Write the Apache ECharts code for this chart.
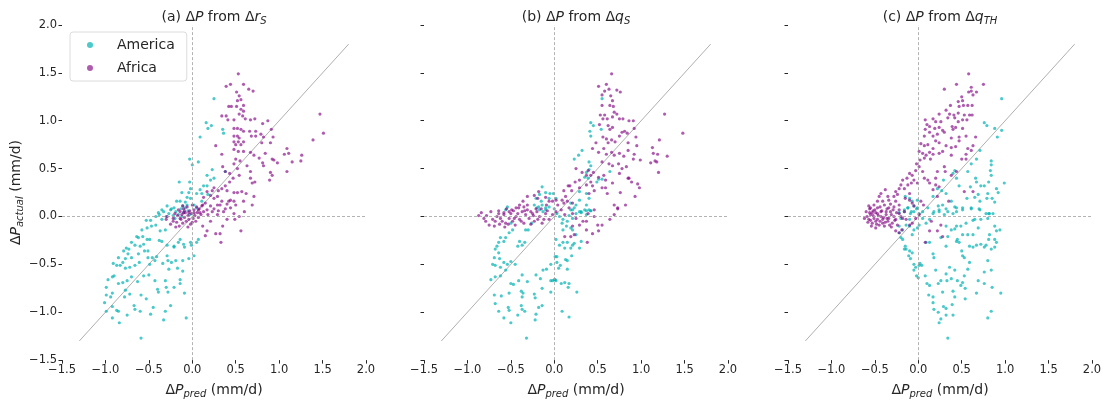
<!DOCTYPE html>
<html><head><meta charset="utf-8">
<script src="https://cdn.jsdelivr.net/npm/echarts@6/dist/echarts.min.js"></script>
<style>html,body{margin:0;padding:0;background:#fff;overflow:hidden}#c{width:1105px;height:404px}</style>
</head><body><div id="c"></div>
<script>
const regions = ['America', 'Africa'];
const panelTitles = ['(a) Δ{i|P} from Δ{i|r}{s|S}', '(b) Δ{i|P} from Δ{i|q}{s|S}', '(c) Δ{i|P} from Δ{i|q}{s|TH}'];
const xName = 'Δ{i|P}{s|pred} (mm/d)';
const yName = 'Δ{i|P}{s|actual} (mm/d)';
const diagonal = [-1.3, 1.8];

const africaA = [[0.53,1.49],[0.39,1.36],[0.44,1.38],[0.59,1.38],[0.65,1.33],[0.70,1.31],[0.51,1.30],[0.54,1.26],[0.56,1.22],[0.52,1.21],[0.59,1.16],[0.42,1.15],[0.45,1.15],[0.51,1.15],[0.56,1.12],[0.59,1.10],[0.34,1.05],[0.39,1.05],[0.54,1.07],[0.58,1.05],[0.61,1.02],[0.67,1.01],[0.72,1.02],[0.41,1.01],[0.48,1.01],[0.81,0.97],[0.87,1.00],[0.48,0.92],[0.52,0.92],[0.56,0.91],[0.59,0.89],[0.66,0.89],[0.73,0.89],[0.91,0.91],[0.68,0.84],[0.73,0.84],[0.48,0.84],[0.52,0.84],[0.54,0.82],[0.79,0.86],[0.82,0.83],[0.93,0.83],[1.47,1.07],[1.51,0.87],[1.39,0.80],[0.48,0.78],[0.53,0.78],[0.59,0.78],[0.80,0.77],[0.90,0.77],[0.27,0.74],[0.50,0.75],[0.56,0.75],[1.09,0.71],[1.06,0.65],[1.11,0.66],[0.48,0.70],[0.53,0.68],[0.59,0.68],[0.34,0.65],[0.67,0.67],[0.71,0.64],[0.84,0.66],[0.92,0.60],[0.94,0.59],[0.77,0.61],[0.81,0.56],[0.50,0.60],[0.55,0.58],[1.15,0.57],[1.26,0.64],[1.25,0.58],[0.98,0.56],[0.48,0.55],[0.52,0.50],[0.63,0.53],[0.67,0.47],[0.82,0.53],[0.90,0.46],[1.09,0.47],[0.92,0.43],[0.89,0.38],[0.35,0.52],[0.38,0.47],[0.43,0.45],[0.54,0.43],[0.67,0.40],[0.69,0.35],[0.72,0.36],[0.47,0.40],[0.43,0.36],[0.38,0.32],[0.34,0.29],[0.30,0.27],[0.40,0.27],[0.48,0.25],[0.52,0.25],[0.25,0.30],[0.23,0.27],[0.57,0.26],[0.62,0.24],[0.71,0.21],[0.59,0.16],[0.69,0.12],[0.44,0.17],[0.48,0.16],[0.17,0.26],[0.21,0.22],[0.13,0.20],[0.25,0.19],[0.29,0.21],[0.34,0.16],[0.40,0.13],[0.29,0.12],[0.15,0.14],[0.11,0.11],[0.21,0.11],[0.17,0.07],[0.07,0.07],[0.13,0.05],[0.23,0.05],[0.30,0.06],[0.36,0.05],[0.09,0.04],[0.02,0.04],[-0.04,0.04],[-0.10,0.04],[0.44,0.09],[0.48,0.03],[0.54,0.0],[0.49,-0.03],[0.56,-0.15],[0.35,-0.10],[0.40,-0.03],[0.27,-0.18],[0.32,-0.18],[0.15,-0.20],[0.17,-0.15],[0.12,-0.10],[0.33,-0.27],[0.21,-0.05],[0.29,0.02],[-0.30,-0.03],[-0.22,-0.05],[-0.29,0.0],[-0.25,-0.08],[-0.22,-0.02],[-0.20,0.03],[-0.18,-0.06],[-0.17,0.01],[-0.15,-0.10],[-0.14,0.05],[-0.13,-0.03],[-0.12,0.02],[-0.11,-0.07],[-0.10,0.08],[-0.09,-0.01],[-0.08,0.04],[-0.07,-0.05],[-0.06,0.10],[-0.05,0.01],[-0.04,-0.03],[-0.03,0.06],[-0.02,-0.08],[-0.01,0.03],[0.0,0.12],[0.01,-0.02],[0.02,0.07],[0.03,0.01],[0.04,-0.05],[0.05,0.10],[0.06,0.04],[0.07,-0.01],[0.08,0.08],[-0.16,0.07],[-0.19,-0.11],[-0.11,0.11],[-0.05,-0.11],[0.00,-0.06],[-0.09,0.06],[-0.14,-0.02],[0.10,0.02],[0.12,0.12],[0.18,0.02],[0.25,0.08],[0.32,0.12],[0.38,0.08],[0.42,0.16],[0.50,0.12],[0.60,0.05]];

const americaA = [[0.25,1.23],[0.16,0.98],[0.22,0.95],[0.18,0.92],[0.35,0.91],[0.36,0.87],[0.09,0.83],[-0.03,0.60],[0.00,0.54],[0.07,0.57],[0.17,0.43],[0.23,0.49],[0.25,0.40],[0.21,0.38],[0.38,0.47],[-0.15,0.36],[-0.03,0.36],[0.13,0.32],[0.17,0.32],[0.09,0.28],[0.05,0.24],[0.11,0.24],[0.18,0.23],[-0.02,0.29],[-0.04,0.25],[-0.12,0.25],[-0.06,0.20],[-0.02,0.19],[-0.08,0.15],[-0.14,0.16],[-0.18,0.16],[-0.29,0.11],[-0.35,0.07],[-0.39,0.04],[-0.25,0.07],[-0.21,0.09],[-0.11,0.11],[-0.06,0.12],[0.02,0.12],[0.05,0.09],[0.11,0.16],[-0.38,0.02],[-0.33,0.05],[-0.30,0.0],[-0.27,0.03],[-0.24,0.08],[-0.22,0.01],[-0.19,0.05],[-0.16,0.02],[-0.13,0.08],[-0.10,0.04],[-0.08,0.09],[-0.05,0.06],[-0.03,0.02],[-0.12,0.00],[-0.20,-0.02],[-0.35,-0.03],[-0.42,0.00],[-0.53,-0.04],[-0.48,-0.04],[-0.58,-0.14],[-0.52,-0.12],[-0.47,-0.10],[-0.42,-0.09],[-0.37,-0.15],[-0.31,-0.14],[-0.57,-0.21],[-0.62,-0.22],[-0.64,-0.21],[-0.52,-0.24],[-0.70,-0.27],[-0.66,-0.30],[-0.60,-0.31],[-0.56,-0.29],[-0.49,-0.24],[-0.76,-0.33],[-0.73,-0.34],[-0.79,-0.36],[-0.74,-0.39],[-0.70,-0.43],[-0.77,-0.44],[-0.85,-0.43],[-0.62,-0.39],[-0.55,-0.36],[-0.51,-0.36],[-0.41,-0.42],[-0.46,-0.43],[-0.51,-0.43],[-0.38,-0.25],[-0.35,-0.26],[-0.29,-0.30],[-0.21,-0.31],[-0.21,-0.32],[-0.16,-0.27],[-0.14,-0.24],[-0.10,-0.29],[-0.09,-0.32],[-0.02,-0.27],[-0.01,-0.30],[0.07,-0.24],[0.05,-0.27],[0.02,-0.41],[-0.04,-0.44],[-0.29,-0.41],[-0.19,-0.46],[-0.28,-0.46],[-0.34,-0.49],[-0.24,-0.48],[-0.11,-0.46],[-0.91,-0.49],[-0.87,-0.51],[-0.83,-0.51],[-0.80,-0.48],[-0.77,-0.54],[-0.72,-0.53],[-0.66,-0.51],[-0.61,-0.48],[-0.49,-0.50],[-0.43,-0.46],[-0.97,-0.66],[-0.92,-0.63],[-0.90,-0.62],[-0.85,-0.70],[-0.80,-0.69],[-0.75,-0.67],[-0.70,-0.63],[-0.63,-0.68],[-0.56,-0.62],[-0.50,-0.61],[-0.43,-0.67],[-0.31,-0.67],[-0.27,-0.55],[-0.17,-0.54],[-0.11,-0.57],[-0.99,-0.74],[-0.72,-0.81],[-0.77,-0.77],[-0.59,-0.82],[-0.53,-0.86],[-0.40,-0.76],[-0.39,-0.79],[-0.30,-0.74],[-0.28,-0.79],[-0.21,-0.74],[-0.14,-0.70],[-0.14,-0.66],[-0.09,-0.80],[-1.01,-0.90],[-0.99,-0.82],[-0.94,-0.84],[-0.92,-0.80],[-0.78,-0.84],[-0.99,-0.99],[-0.92,-0.94],[-0.87,-0.98],[-0.85,-0.99],[-0.75,-1.03],[-0.67,-0.93],[-0.66,-0.97],[-0.60,-0.99],[-0.48,-1.02],[-0.45,-0.95],[-0.31,-0.99],[-0.25,-0.93],[-0.33,-1.08],[-0.07,-1.06],[-0.92,-1.06],[-0.84,-1.11],[-0.59,-1.27]];

const africaB = [[0.66,1.49],[0.60,1.38],[0.51,1.36],[0.58,1.31],[0.63,1.33],[0.72,1.32],[0.76,1.30],[0.55,1.27],[0.65,1.26],[0.67,1.21],[0.64,1.16],[0.68,1.15],[0.55,1.16],[0.69,1.09],[0.72,1.07],[0.53,1.06],[0.58,1.06],[0.67,1.04],[0.56,1.02],[0.61,1.02],[0.75,1.02],[0.79,1.02],[0.86,1.00],[0.62,0.95],[0.67,0.93],[0.64,0.91],[0.52,0.96],[0.91,1.00],[0.78,0.88],[0.81,0.89],[0.75,0.84],[0.84,0.87],[0.92,0.92],[1.27,1.07],[1.48,0.87],[0.94,0.83],[1.21,0.80],[1.30,0.63],[1.20,0.46],[0.56,0.83],[0.60,0.81],[0.66,0.80],[0.70,0.78],[0.62,0.77],[0.85,0.77],[0.95,0.74],[0.85,0.69],[1.13,0.72],[1.14,0.66],[1.19,0.65],[0.48,0.77],[0.44,0.71],[0.51,0.67],[0.57,0.71],[0.60,0.65],[0.66,0.67],[0.69,0.64],[0.75,0.66],[0.80,0.63],[0.92,0.65],[0.91,0.60],[0.99,0.59],[1.11,0.56],[1.16,0.58],[1.18,0.57],[0.55,0.57],[0.63,0.55],[0.67,0.53],[0.74,0.55],[0.78,0.50],[0.75,0.45],[0.83,0.52],[0.45,0.46],[0.42,0.43],[0.51,0.41],[0.57,0.43],[0.59,0.38],[0.55,0.30],[0.59,0.30],[0.61,0.24],[0.86,0.40],[0.89,0.36],[0.96,0.34],[0.98,0.30],[0.85,0.40],[0.67,0.35],[0.76,0.25],[0.93,0.21],[0.37,0.43],[0.39,0.48],[0.32,0.46],[0.25,0.50],[0.29,0.38],[0.24,0.36],[0.37,0.33],[0.29,0.30],[0.42,0.36],[0.44,0.32],[0.46,0.27],[0.40,0.24],[0.16,0.32],[0.18,0.32],[0.11,0.27],[0.20,0.27],[0.13,0.21],[0.09,0.17],[0.15,0.16],[0.11,0.14],[0.21,0.14],[0.69,0.12],[0.82,0.12],[0.73,0.08],[0.02,0.17],[-0.02,0.16],[0.04,0.12],[-0.18,0.26],[-0.23,0.22],[-0.19,0.19],[-0.31,0.21],[-0.36,0.16],[-0.40,0.12],[-0.31,0.12],[-0.35,0.10],[-0.44,0.09],[-0.49,0.07],[-0.52,0.05],[-0.58,0.04],[-0.64,0.03],[-0.27,0.05],[-0.21,0.08],[-0.10,0.20],[-0.06,0.16],[-0.09,0.12],[-0.87,0.01],[-0.81,-0.02],[-0.79,-0.05],[-0.75,-0.09],[-0.71,-0.03],[-0.69,-0.10],[-0.66,0.0],[-0.60,-0.05],[-0.58,0.02],[-0.56,-0.07],[-0.52,-0.02],[-0.50,0.03],[-0.48,-0.05],[-0.44,0.0],[-0.40,-0.03],[-0.37,0.05],[-0.35,-0.07],[-0.33,0.02],[-0.29,-0.02],[-0.25,0.03],[-0.23,-0.05],[-0.17,0.0],[-0.14,-0.07],[-0.10,0.03],[-0.06,-0.03],[-0.02,0.02],[0.02,0.05],[0.08,0.07],[0.12,0.02],[0.17,0.09],[0.21,0.03],[0.25,-0.02],[0.29,-0.09],[0.33,-0.05],[0.37,-0.05],[0.39,0.03],[0.46,0.0],[0.50,-0.09],[0.55,-0.09],[0.44,-0.18],[0.38,-0.27],[0.51,-0.15],[0.37,-0.14],[0.21,-0.10],[0.23,-0.19],[0.19,-0.21],[0.12,-0.21],[0.73,0.09],[0.69,0.02],[0.64,-0.03],[0.46,0.07],[-0.84,0.04],[-0.78,0.01],[-0.73,0.05],[-0.68,-0.05],[-0.64,0.06],[-0.62,-0.02],[-0.55,0.08],[-0.53,-0.08],[-0.47,0.06],[-0.45,-0.09],[-0.42,0.03],[-0.38,-0.05],[-0.31,0.07],[-0.27,-0.08],[-0.24,0.01],[-0.20,0.05],[-0.15,0.08],[-0.12,-0.03],[-0.08,0.06],[-0.63,-0.08],[-0.57,-0.11],[-0.46,-0.02],[-0.41,0.09],[-0.34,0.06],[-0.19,-0.03]];

const americaB = [[0.55,1.23],[0.42,0.98],[0.45,0.95],[0.41,0.89],[0.42,0.84],[0.54,0.91],[0.32,0.69],[0.23,0.60],[0.28,0.64],[0.40,0.57],[0.42,0.53],[0.40,0.49],[0.37,0.46],[0.35,0.41],[0.39,0.40],[0.51,0.39],[0.55,0.39],[0.49,0.36],[0.64,0.47],[-0.14,0.31],[-0.10,0.25],[-0.05,0.24],[-0.17,0.23],[-0.21,0.19],[-0.15,0.16],[-0.14,0.12],[-0.10,0.09],[-0.18,0.10],[-0.23,0.12],[-0.54,0.10],[-0.56,0.07],[-0.01,0.24],[-0.06,0.19],[0.02,0.19],[0.29,0.26],[0.37,0.24],[0.40,0.19],[0.29,0.17],[0.25,0.12],[0.37,0.12],[0.42,0.06],[0.37,0.06],[0.31,0.04],[0.21,0.07],[0.19,0.14],[-0.50,-0.07],[-0.48,-0.14],[-0.52,-0.17],[-0.56,-0.22],[-0.58,-0.26],[-0.62,-0.22],[-0.64,-0.27],[-0.66,-0.31],[-0.68,-0.34],[-0.64,-0.38],[-0.69,-0.43],[-0.63,-0.44],[-0.71,-0.50],[-0.68,-0.51],[-0.58,-0.48],[-0.54,-0.50],[-0.62,-0.53],[-0.56,-0.56],[-0.50,-0.47],[-0.45,-0.50],[-0.42,-0.31],[-0.40,-0.26],[-0.37,-0.30],[-0.34,-0.27],[-0.30,-0.14],[-0.33,-0.14],[-0.26,-0.07],[-0.73,-0.66],[-0.68,-0.63],[-0.62,-0.62],[-0.50,-0.70],[-0.47,-0.71],[-0.41,-0.67],[-0.37,-0.61],[-0.31,-0.68],[-0.21,-0.61],[-0.16,-0.65],[-0.13,-0.56],[-0.09,-0.55],[-0.04,-0.50],[0.01,-0.42],[0.03,-0.48],[-0.04,-0.67],[0.00,-0.66],[0.02,-0.67],[-0.69,-0.82],[-0.68,-0.91],[-0.61,-0.83],[-0.52,-0.80],[-0.38,-0.78],[-0.36,-0.80],[-0.37,-0.84],[-0.23,-0.81],[-0.22,-0.85],[-0.14,-0.75],[-0.04,-0.79],[-0.14,-0.93],[-0.18,-0.95],[-0.21,-1.02],[-0.22,-1.08],[-0.38,-0.93],[-0.37,-0.97],[-0.34,-0.99],[-0.42,-1.03],[-0.53,-0.95],[-0.52,-0.98],[-0.58,-1.06],[-0.50,-1.11],[-0.64,-0.99],[-0.32,-1.27],[0.02,-0.24],[0.06,-0.30],[0.10,-0.27],[0.12,-0.33],[0.15,-0.27],[0.19,-0.33],[0.21,-0.30],[0.23,-0.28],[0.29,-0.33],[0.31,-0.26],[0.25,-0.19],[0.21,-0.14],[0.19,-0.12],[0.14,-0.10],[0.10,-0.14],[0.09,-0.07],[0.15,-0.05],[0.21,-0.02],[0.25,0.03],[0.29,0.05],[0.35,0.07],[0.42,0.06],[0.37,0.02],[0.17,0.01],[0.10,-0.03],[0.06,0.0],[0.03,-0.42],[0.05,-0.54],[0.13,-0.45],[0.15,-0.46],[0.20,-0.41],[0.15,-0.55],[0.12,-0.69],[0.17,-0.70],[0.16,-0.74],[0.08,-0.70],[0.26,-0.79],[0.09,-0.99],[0.17,-1.05],[0.01,-0.66],[-0.02,-0.67],[0.07,-0.51],[-0.20,0.09],[-0.17,0.07],[-0.13,0.05],[-0.10,0.07],[-0.06,0.10],[0.00,0.08],[0.03,0.03],[0.19,0.07],[0.23,0.09],[0.31,0.05],[0.40,0.07]];

const africaC = [[0.58,1.49],[0.44,1.38],[0.75,1.38],[0.61,1.35],[0.61,1.31],[0.58,1.30],[0.63,1.27],[0.67,1.30],[0.30,1.33],[0.50,1.25],[0.51,1.21],[0.46,1.20],[0.37,1.16],[0.47,1.15],[0.52,1.16],[0.57,1.16],[0.62,1.16],[0.32,1.11],[0.24,1.07],[0.36,1.07],[0.41,1.06],[0.46,1.08],[0.53,1.06],[0.59,1.06],[0.62,1.06],[0.08,1.01],[0.17,1.02],[0.20,0.99],[0.26,0.99],[0.34,1.03],[0.42,1.03],[0.46,0.99],[0.51,1.01],[0.56,1.01],[0.10,0.96],[0.13,0.94],[0.08,0.91],[0.19,0.92],[0.24,0.93],[0.28,0.90],[0.39,0.94],[0.40,0.91],[0.43,0.93],[0.51,0.92],[0.07,0.84],[0.13,0.88],[0.17,0.84],[0.22,0.86],[0.30,0.88],[0.38,0.82],[0.47,0.83],[0.55,0.84],[0.66,0.83],[0.03,0.76],[0.07,0.74],[0.11,0.75],[0.17,0.71],[0.20,0.79],[0.24,0.77],[0.32,0.74],[0.38,0.72],[0.43,0.73],[0.47,0.79],[0.57,0.71],[0.61,0.69],[0.63,0.74],[0.01,0.68],[0.05,0.66],[0.09,0.64],[0.13,0.67],[0.17,0.65],[0.07,0.61],[0.14,0.60],[0.24,0.66],[0.28,0.68],[0.38,0.64],[0.50,0.60],[0.55,0.60],[0.55,0.65],[-0.02,0.55],[0.01,0.52],[-0.03,0.48],[0.05,0.47],[0.02,0.59],[-0.07,0.43],[-0.10,0.45],[-0.05,0.38],[-0.01,0.35],[-0.08,0.35],[-0.13,0.40],[-0.18,0.38],[-0.12,0.33],[-0.20,0.33],[-0.22,0.29],[-0.16,0.29],[-0.26,0.26],[-0.24,0.23],[-0.28,0.21],[-0.35,0.21],[-0.38,0.28],[-0.43,0.24],[-0.45,0.21],[-0.41,0.16],[-0.47,0.16],[-0.51,0.12],[-0.55,0.09],[-0.52,0.06],[-0.56,0.04],[-0.47,0.09],[-0.39,0.12],[-0.34,0.17],[-0.32,0.13],[-0.26,0.16],[-0.22,0.12],[-0.28,0.10],[-0.34,0.09],[-0.37,0.05],[-0.43,0.05],[-0.49,0.04],[-0.22,0.07],[-0.16,0.05],[-0.15,0.19],[-0.10,0.24],[-0.10,0.17],[-0.07,0.14],[-0.05,0.11],[0.22,0.47],[0.30,0.52],[0.31,0.47],[0.38,0.43],[0.44,0.47],[0.07,0.40],[0.11,0.38],[0.13,0.35],[0.20,0.33],[0.24,0.31],[0.20,0.40],[0.35,0.16],[0.53,0.26],[0.63,0.26],[0.03,0.16],[0.06,0.12],[0.17,0.28],[0.22,0.21],[-0.59,0.0],[-0.57,-0.03],[-0.55,0.02],[-0.53,-0.07],[-0.51,-0.02],[-0.49,-0.05],[-0.47,0.03],[-0.45,-0.09],[-0.43,0.0],[-0.41,-0.03],[-0.39,-0.10],[-0.37,0.02],[-0.35,-0.05],[-0.34,-0.02],[-0.32,0.05],[-0.30,-0.07],[-0.28,0.0],[-0.26,-0.03],[-0.22,0.03],[-0.18,-0.02],[-0.26,-0.15],[-0.22,-0.17],[-0.19,-0.14],[-0.14,-0.03],[-0.10,-0.09],[-0.07,-0.07],[0.08,-0.27],[0.13,-0.15],[0.26,-0.09],[0.28,-0.21],[0.22,-0.15],[0.15,-0.05],[-0.03,-0.02],[0.01,0.02],[-0.60,0.05],[-0.58,-0.06],[-0.56,0.08],[-0.54,-0.10],[-0.52,0.01],[-0.50,0.07],[-0.48,-0.08],[-0.46,0.01],[-0.44,-0.05],[-0.42,0.06],[-0.40,-0.01],[-0.38,-0.06],[-0.36,0.08],[-0.33,-0.09],[-0.31,0.02],[-0.29,0.07],[-0.27,-0.04],[-0.25,0.04],[-0.24,-0.09],[-0.20,0.00],[-0.57,0.11],[-0.53,0.04],[-0.49,-0.12],[-0.44,0.10],[-0.41,-0.07],[-0.36,-0.02],[-0.31,-0.11],[-0.62,-0.02],[-0.55,-0.04],[-0.47,-0.03]];

const americaC = [[0.96,1.23],[0.76,0.98],[0.79,0.95],[0.88,0.92],[0.96,0.90],[0.91,0.83],[0.71,0.69],[0.67,0.60],[0.61,0.55],[0.57,0.47],[0.84,0.58],[0.84,0.54],[0.83,0.48],[0.84,0.43],[0.81,0.36],[0.42,0.48],[0.40,0.45],[0.44,0.40],[0.47,0.32],[0.29,0.38],[0.27,0.27],[0.22,0.29],[0.17,0.21],[0.66,0.40],[0.67,0.36],[0.60,0.31],[0.72,0.32],[0.76,0.32],[0.90,0.29],[0.92,0.25],[0.80,0.24],[0.79,0.19],[0.85,0.19],[0.88,0.15],[0.71,0.16],[0.69,0.23],[0.65,0.20],[0.56,0.19],[0.99,0.35],[0.32,0.24],[0.38,0.16],[0.42,0.10],[0.44,0.05],[0.51,0.07],[0.61,0.08],[0.71,0.07],[0.86,0.03],[0.81,0.03],[0.23,0.11],[0.28,0.12],[0.24,0.05],[0.18,0.05],[0.11,0.09],[-0.15,0.21],[-0.10,0.19],[-0.07,0.16],[-0.01,0.17],[-0.05,0.11],[-0.12,0.09],[-0.16,0.05],[-0.08,0.05],[-0.02,0.08],[0.05,0.05],[0.01,0.03],[-0.22,0.04],[-0.22,-0.17],[-0.20,-0.22],[-0.18,-0.24],[-0.15,-0.31],[-0.16,-0.34],[-0.10,-0.36],[-0.11,-0.41],[-0.14,-0.34],[-0.07,-0.38],[-0.09,-0.44],[-0.05,-0.50],[-0.03,-0.53],[0.01,-0.51],[0.04,-0.51],[0.02,-0.49],[-0.05,-0.56],[-0.02,-0.62],[0.00,-0.64],[0.08,-0.62],[0.10,-0.70],[0.13,-0.72],[0.12,-0.82],[0.17,-0.84],[0.17,-0.90],[0.18,-0.97],[0.23,-1.00],[0.29,-0.94],[0.32,-0.96],[0.26,-1.07],[0.24,-1.11],[0.32,-1.03],[0.39,-0.92],[0.40,-1.03],[0.34,-1.27],[0.09,-0.27],[0.13,-0.27],[0.17,-0.39],[0.18,-0.43],[0.20,-0.56],[0.23,-0.70],[0.26,-0.67],[0.28,-0.79],[0.33,-0.67],[0.38,-0.65],[0.40,-0.78],[0.42,-0.84],[0.45,-0.67],[0.49,-0.72],[0.51,-0.69],[0.53,-0.62],[0.54,-0.75],[0.54,-0.86],[0.57,-0.55],[0.59,-0.48],[0.51,-0.41],[0.53,-0.43],[0.50,-0.36],[0.47,-0.27],[0.44,-0.26],[0.45,-0.24],[0.51,-0.19],[0.57,-0.19],[0.63,-0.19],[0.59,-0.31],[0.63,-0.32],[0.67,-0.30],[0.72,-0.29],[0.76,-0.32],[0.78,-0.30],[0.81,-0.24],[0.82,-0.19],[0.88,-0.24],[0.90,-0.27],[0.88,-0.32],[0.84,-0.34],[0.80,-0.46],[0.84,-0.56],[0.76,-0.58],[0.69,-0.67],[0.67,-0.80],[0.76,-0.70],[0.85,-0.74],[0.95,-0.80],[0.84,-0.99],[0.80,-1.06],[0.36,-0.53],[0.42,-0.56],[0.32,-0.60],[0.34,-0.21],[0.32,-0.31],[0.26,-0.22],[0.32,-0.10],[0.38,-0.14],[0.42,-0.13],[0.44,-0.10],[0.49,-0.10],[0.55,-0.07],[0.63,-0.04],[0.65,-0.03],[0.69,-0.12],[0.72,-0.03],[0.80,-0.02],[0.82,0.03],[0.88,-0.10],[0.90,-0.15],[0.94,-0.14],[0.30,0.02],[0.34,0.05],[0.40,0.03],[0.44,0.09],[0.51,0.09],[0.61,0.09],[0.70,0.08],[0.78,0.03],[0.32,0.08],[0.24,0.07],[0.17,0.03],[0.13,-0.03],[0.09,-0.07],[0.05,-0.02],[0.01,-0.09],[-0.01,-0.12],[-0.05,-0.14],[-0.07,-0.19],[-0.10,-0.10],[-0.14,-0.09],[-0.18,-0.14],[-0.22,-0.10],[-0.20,-0.02],[-0.16,0.07],[-0.12,0.09],[-0.09,0.03],[-0.05,0.05],[-0.01,0.09],[-0.10,-0.03]];

const americaSets = [americaA, americaB, americaC];
const africaSets = [africaA, africaB, africaC];

const FONT = 'DejaVu Sans';
const TXT = '#262626';
const regionColors = ['rgba(0,178,178,0.88)', 'rgba(128,0,128,0.8)'];
const gridLefts = [62, 424, 788];
const gridWidth = 304;

function richFor(size) {
  return {
    i: { fontStyle: 'italic', fontSize: size, fontFamily: FONT, color: TXT, lineHeight: 18 },
    s: { fontStyle: 'italic', fontSize: Math.round(size * 0.72), fontFamily: FONT, color: TXT, verticalAlign: 'bottom', lineHeight: 11 }
  };
}
const fmt = v => (v < 0 ? '\u2212' : '') + Math.abs(v).toFixed(1);

const grids = [], xAxes = [], yAxes = [], series = [], titles = [];
for (let p = 0; p < 3; p++) {
  grids.push({ left: gridLefts[p], top: 25, width: gridWidth, height: 341 });
  titles.push({
    text: panelTitles[p], left: gridLefts[p] + gridWidth / 2, top: 8, textAlign: 'center', padding: 0,
    textStyle: { fontFamily: FONT, fontSize: 14, fontWeight: 'normal', color: TXT, lineHeight: 18, rich: richFor(14) }
  });
  xAxes.push({
    gridIndex: p, type: 'value', min: -1.5, max: 2.0, interval: 0.5, position: 'bottom',
    axisLine: { show: false, onZero: false }, splitLine: { show: false },
    axisTick: { show: true, length: 3.5, lineStyle: { color: TXT, width: 1 } },
    axisLabel: { show: true, margin: 4, fontFamily: FONT, fontSize: 11.5, color: TXT, formatter: fmt },
    name: xName, nameLocation: 'middle', nameGap: 17,
    nameTextStyle: { fontFamily: FONT, fontSize: 14, color: TXT, lineHeight: 18, rich: richFor(14), verticalAlign: 'top' }
  });
  const ya = {
    gridIndex: p, type: 'value', min: -1.5, max: 2.0, interval: 0.5, position: 'left',
    axisLine: { show: false, onZero: false }, splitLine: { show: false },
    axisTick: { show: true, length: 3.5, lineStyle: { color: TXT, width: 1 } },
    axisLabel: { show: p === 0, margin: 5, fontFamily: FONT, fontSize: 11.5, color: TXT, formatter: fmt }
  };
  if (p === 0) {
    ya.name = yName; ya.nameLocation = 'middle'; ya.nameGap = 34; ya.nameRotate = 90;
    ya.nameTextStyle = { fontFamily: FONT, fontSize: 14, color: TXT, lineHeight: 18, rich: richFor(14) };
  }
  yAxes.push(ya);
  series.push({
    type: 'line', xAxisIndex: p, yAxisIndex: p, silent: true, showSymbol: false, z: 1,
    data: [[diagonal[0], diagonal[0]], [diagonal[1], diagonal[1]]],
    lineStyle: { color: '#9a9a9a', width: 0.8 },
    markLine: {
      silent: true, symbol: 'none', label: { show: false },
      lineStyle: { color: '#a0a0a0', width: 0.8, type: [3, 2] },
      data: [{ xAxis: 0 }, { yAxis: 0 }]
    }
  });
  const sets = [americaSets[p], africaSets[p]];
  for (let r = 0; r < 2; r++) {
    series.push({
      name: regions[r], type: 'scatter', xAxisIndex: p, yAxisIndex: p,
      data: sets[r], symbol: 'circle', symbolSize: 3.2, z: 2,
      itemStyle: { color: regionColors[r] }
    });
  }
}

const chart = echarts.init(document.getElementById('c'), null, { renderer: 'canvas' });
chart.setOption({
  animation: false,
  backgroundColor: '#fff',
  title: titles,
  legend: {
    data: regions, orient: 'vertical', left: 70, top: 32,
    icon: 'circle', itemWidth: 6, itemHeight: 6, itemGap: 9,
    backgroundColor: '#fff', borderColor: '#dcdcdc', borderWidth: 1, borderRadius: 3,
    padding: [6, 12, 6, 17],
    textStyle: { fontFamily: FONT, fontSize: 14, color: TXT, padding: [0, 0, 0, 19] }
  },
  grid: grids, xAxis: xAxes, yAxis: yAxes, series: series
});
</script></body></html>
